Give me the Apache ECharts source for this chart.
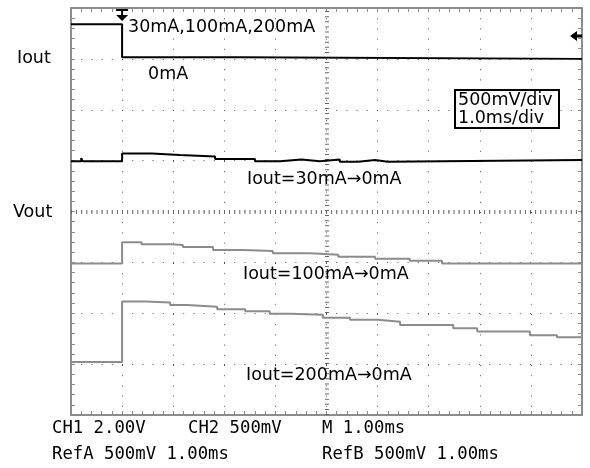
<!DOCTYPE html>
<html>
<head>
<meta charset="utf-8">
<script src="https://cdn.jsdelivr.net/npm/echarts@6/dist/echarts.min.js"></script>
<style>html,body{margin:0;padding:0;background:#fff}#c{width:590px;height:468px}</style>
</head>
<body>
<div id="c"></div>
<script>
// time in ms (1 ms/div), vertical position in divisions (center = 0)
const ioutTrace = [[-1,3.68],[0,3.03],[2.3,3.0],[9,3.0]];
const vout30 = [[-1,0.99],[-0.8,1.05],[-0.77,0.99],[0,1.14],[0.58,1.11],[1.13,1.08],[1.82,1.03],[2.6,0.99],[3.09,1.02],[3.51,0.99],[3.87,1.02],[4.26,0.98],[4.62,1.01],[4.95,0.98],[5.2,1.01],[9,1.01]];
const vout100 = [[-1,-1.02],[0,-0.605],[0.38,-0.645],[0.97,-0.66],[1.19,-0.70],[1.78,-0.755],[2.37,-0.775],[2.95,-0.82],[3.68,-0.85],[4.23,-0.89],[4.95,-0.93],[5.63,-0.97],[6.26,-1.02],[9,-1.02]];
const vout200 = [[-1,-2.96],[0,-1.77],[0.47,-1.79],[0.94,-1.84],[1.27,-1.87],[1.86,-1.92],[2.41,-1.96],[2.89,-2.01],[3.29,-2.03],[3.93,-2.09],[4.46,-2.13],[5.01,-2.165],[5.44,-2.23],[6.48,-2.295],[6.95,-2.36],[7.98,-2.43],[8.51,-2.47],[9,-2.47]];
const triggerTime = 0;
const triggerLevel = 3.45;
const channelLabels = ['Iout','Vout'];
const traceLabels = ['30mA,100mA,200mA','0mA','Iout=30mA\u21920mA','Iout=100mA\u21920mA','Iout=200mA\u21920mA'];
const scaleLabels = ['500mV/div','1.0ms/div'];
const statusRow1 = ['CH1 2.00V','CH2 500mV','M 1.00ms'];
const statusRow2 = ['RefA 500mV 1.00ms','RefB 500mV 1.00ms'];

const chart = echarts.init(document.getElementById('c'));
const frameColor = '#8c8c8c';
const annFont = '17.5px "DejaVu Sans", sans-serif';
const statFont = '17.3px "DejaVu Sans Mono", monospace';
function axisCommon(pos, grid) {
  return {
    type: 'value', position: pos, min: pos==='top'||pos==='bottom' ? -1 : -4, max: pos==='top'||pos==='bottom' ? 9 : 4, interval: 1,
    axisLabel: {show: false},
    axisLine: {show: true, onZero: false, lineStyle: {color: frameColor, width: 2}},
    axisTick: {show: true, inside: true, length: 4, lineStyle: {color: frameColor, width: 1}},
    minorTick: {show: true, splitNumber: 5, length: 4, lineStyle: {color: frameColor, width: 1}},
    splitLine: {show: grid, lineStyle: {color: '#555', width: 1, type: [1, 9.2]}}
  };
}
function txt(t, x, y, font) {
  return {type: 'text', x: x, y: y, z: 100, style: {text: t, font: font, fill: '#000', textAlign: 'left', textVerticalAlign: 'middle', align: 'left', verticalAlign: 'middle'}};
}
function traceSeries(data, color, xi) {
  return {type: 'line', data: data, step: 'end', showSymbol: false, symbol: 'none', z: 5,
    lineStyle: {color: color, width: 2}, xAxisIndex: 0, yAxisIndex: 0, silent: true};
}
const option = {
  animation: false,
  backgroundColor: '#fff',
  grid: {left: 71, top: 8, width: 511, height: 407, containLabel: false},
  xAxis: [axisCommon('bottom', true), axisCommon('top', false)],
  yAxis: [axisCommon('left', true), axisCommon('right', false)],
  series: [
    {type: 'line', data: [], z: 2, silent: true,
      markLine: {silent: true, symbol: 'none', label: {show: false},
        lineStyle: {color: '#666', width: 4, type: [1, 4.1]},
        data: [{yAxis: 0}, {xAxis: 4}]},
      markPoint: {silent: true, label: {show: false},
        data: [
          {coord: [triggerTime, 4], symbol: 'path://M0,0 H12 V2 H0 Z M5,2 H7 V6 H5 Z M0,6 H12 L6,12 Z', symbolSize: [12, 12], symbolOffset: [0, 7], itemStyle: {color: '#000'}},
          {coord: [9, triggerLevel], symbol: 'path://M0,5 L7,0 L7,3.5 L12,3.5 L12,6.5 L7,6.5 L7,10 Z', symbolSize: [12, 10], symbolOffset: [-6, 0], itemStyle: {color: '#000'}}
        ]}},
    traceSeries(vout200, '#8c8c8c'),
    traceSeries(vout100, '#8c8c8c'),
    traceSeries(vout30, '#000'),
    traceSeries(ioutTrace, '#000')
  ],
  graphic: [
    txt(channelLabels[0], 17, 58, annFont),
    txt(channelLabels[1], 13, 212, annFont),
    txt(traceLabels[0], 128, 27, annFont),
    txt(traceLabels[1], 148, 74, annFont),
    txt(traceLabels[2], 247, 179, annFont),
    txt(traceLabels[3], 243, 274, annFont),
    txt(traceLabels[4], 246, 375, annFont),
    {type: 'rect', z: 90, shape: {x: 455, y: 90, width: 104, height: 38}, style: {fill: '#fff', stroke: '#000', lineWidth: 2}},
    txt(scaleLabels[0], 458, 100, annFont),
    txt(scaleLabels[1], 458, 118, annFont),
    txt(statusRow1[0], 52, 429, statFont),
    txt(statusRow1[1], 188, 429, statFont),
    txt(statusRow1[2], 322, 429, statFont),
    txt(statusRow2[0], 52, 455, statFont),
    txt(statusRow2[1], 322, 455, statFont)
  ]
};
chart.setOption(option);
</script>
</body>
</html>
